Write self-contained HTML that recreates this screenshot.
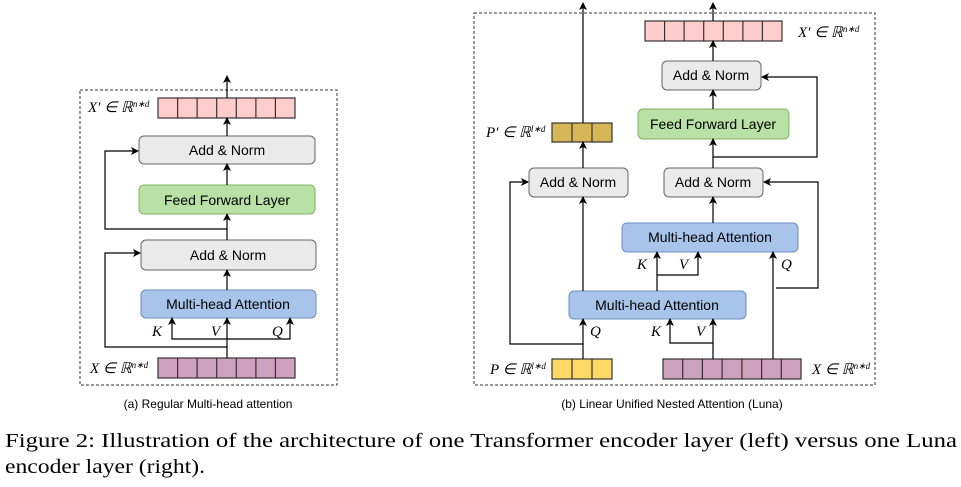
<!DOCTYPE html>
<html><head><meta charset="utf-8"><style>
html,body{margin:0;padding:0;background:#fff;}
svg{display:block;}
.b{font-family:"Liberation Sans",sans-serif;font-size:14px;fill:#000;text-anchor:middle;}
.m{font-family:"Liberation Serif",serif;font-style:italic;font-size:15px;fill:#000;}
.cap{font-family:"Liberation Sans",sans-serif;font-size:12px;fill:#000;text-anchor:middle;}
.fc{font-family:"Liberation Serif",serif;font-size:20px;fill:#000;}
</style></head><body>
<svg width="961" height="487" viewBox="0 0 961 487" xmlns="http://www.w3.org/2000/svg">
<defs>
<marker id="a" markerWidth="8" markerHeight="8" refX="7" refY="4" orient="auto" markerUnits="userSpaceOnUse">
<path d="M0,0 L8,4 L0,8 L2,4 z" fill="#000"/></marker>
</defs>
<g fill="none" stroke="#333" stroke-width="1" stroke-dasharray="3,2">
<rect x="80" y="90" width="257" height="295"/>
<rect x="474" y="13" width="401" height="372"/>
</g>
<!-- LEFT -->
<g stroke="#333" stroke-width="1.2">
<rect x="158" y="98" width="137" height="20" fill="#ffcccc"/>
<rect x="158" y="358" width="137" height="20" fill="#cda2be"/>
</g>
<g stroke="#333" stroke-width="1.2">
<path d="M177.6,98v20M197.1,98v20M216.7,98v20M236.3,98v20M255.9,98v20M275.4,98v20"/>
<path d="M177.6,358v20M197.1,358v20M216.7,358v20M236.3,358v20M255.9,358v20M275.4,358v20"/>
</g>
<rect x="139" y="136" width="176" height="28" rx="5" fill="#eaeaea" stroke="#666"/>
<rect x="139" y="185" width="176" height="29" rx="5" fill="#b9e0a5" stroke="#82b366"/>
<rect x="141" y="240" width="175" height="30" rx="5" fill="#eaeaea" stroke="#666"/>
<rect x="141" y="290" width="175" height="28" rx="5" fill="#a9c4eb" stroke="#6c8ebf"/>
<text class="b" x="227" y="155">Add &amp; Norm</text>
<text class="b" x="227" y="205">Feed Forward Layer</text>
<text class="b" x="228" y="260">Add &amp; Norm</text>
<text class="b" x="228" y="309">Multi-head Attention</text>
<g stroke="#000" stroke-width="1.2" fill="none" marker-end="url(#a)">
<path d="M227,98V76"/>
<path d="M227,136V118"/>
<path d="M227,185V164"/>
<path d="M227,240V214"/>
<path d="M227,290V270"/>
<path d="M227,358V318"/>
<path d="M227,339H172V318"/>
<path d="M227,339H290V318"/>
<path d="M227,229H105V151H138"/>
<path d="M227,347H105V253H140"/>
</g>
<text class="m" x="152" y="336">K</text>
<text class="m" x="211" y="336">V</text>
<text class="m" x="272" y="336">Q</text>
<text class="m" x="88" y="112">X′ ∈ ℝ<tspan font-size="9" dy="-5">n∗d</tspan></text>
<text class="m" x="90" y="373">X ∈ ℝ<tspan font-size="9" dy="-5">n∗d</tspan></text>
<!-- RIGHT -->
<g stroke="#333" stroke-width="1.2">
<rect x="645" y="21" width="137" height="20" fill="#ffcccc"/>
<path d="M664.6,21v20M684.1,21v20M703.7,21v20M723.3,21v20M742.9,21v20M762.4,21v20"/>
<rect x="663" y="359" width="138" height="20" fill="#cda2be"/>
<path d="M682.7,359v20M702.4,359v20M722.1,359v20M741.9,359v20M761.6,359v20M781.3,359v20"/>
<rect x="552" y="123" width="60" height="19" fill="#d6b656"/>
<path d="M572,123v19M592,123v19"/>
<rect x="552" y="359" width="60" height="20" fill="#ffd966"/>
<path d="M572,359v20M592,359v20"/>
</g>
<rect x="662" y="61" width="99" height="29" rx="5" fill="#eaeaea" stroke="#666"/>
<rect x="638" y="109" width="151" height="30" rx="5" fill="#b9e0a5" stroke="#82b366"/>
<rect x="664" y="168" width="99" height="29" rx="5" fill="#eaeaea" stroke="#666"/>
<rect x="529" y="168" width="99" height="29" rx="5" fill="#eaeaea" stroke="#666"/>
<rect x="622" y="223" width="176" height="29" rx="5" fill="#a9c4eb" stroke="#6c8ebf"/>
<rect x="569" y="291" width="177" height="28" rx="5" fill="#a9c4eb" stroke="#6c8ebf"/>
<text class="b" x="711" y="80">Add &amp; Norm</text>
<text class="b" x="713" y="129">Feed Forward Layer</text>
<text class="b" x="713" y="187">Add &amp; Norm</text>
<text class="b" x="578" y="187">Add &amp; Norm</text>
<text class="b" x="710" y="242">Multi-head Attention</text>
<text class="b" x="657" y="310">Multi-head Attention</text>
<g stroke="#000" stroke-width="1.2" fill="none" marker-end="url(#a)">
<path d="M713,21V3"/>
<path d="M583,123V3"/>
<path d="M713,61V41"/>
<path d="M713,109V90"/>
<path d="M713,168V139"/>
<path d="M713,223V197"/>
<path d="M583,168V142"/>
<path d="M583,291V197"/>
<path d="M583,359V319"/>
<path d="M583,344H510V182H528"/>
<path d="M657,291V252"/>
<path d="M657,275H698V252"/>
<path d="M713,359V319"/>
<path d="M713,343H670V319"/>
<path d="M773,359V252"/>
<path d="M713,157H817V77H762"/>
<path d="M776,288H818V182H764"/>
</g>
<text class="m" x="637" y="269">K</text>
<text class="m" x="679" y="269">V</text>
<text class="m" x="781" y="269">Q</text>
<text class="m" x="590" y="336">Q</text>
<text class="m" x="651" y="336">K</text>
<text class="m" x="696" y="336">V</text>
<text class="m" x="486" y="137">P′ ∈ ℝ<tspan font-size="9" dy="-5">l∗d</tspan></text>
<text class="m" x="490" y="374">P ∈ ℝ<tspan font-size="9" dy="-5">l∗d</tspan></text>
<text class="m" x="812" y="374">X ∈ ℝ<tspan font-size="9" dy="-5">n∗d</tspan></text>
<text class="m" x="798" y="37">X′ ∈ ℝ<tspan font-size="9" dy="-5">n∗d</tspan></text>
<!-- captions -->
<text class="cap" x="208" y="408">(a) Regular Multi-head attention</text>
<text class="cap" x="672" y="408">(b) Linear Unified Nested Attention (Luna)</text>
<text class="fc" x="5" y="447" textLength="952" lengthAdjust="spacingAndGlyphs">Figure 2: Illustration of the architecture of one Transformer encoder layer (left) versus one Luna</text>
<text class="fc" x="5" y="473" textLength="200" lengthAdjust="spacingAndGlyphs">encoder layer (right).</text>
</svg>
</body></html>
